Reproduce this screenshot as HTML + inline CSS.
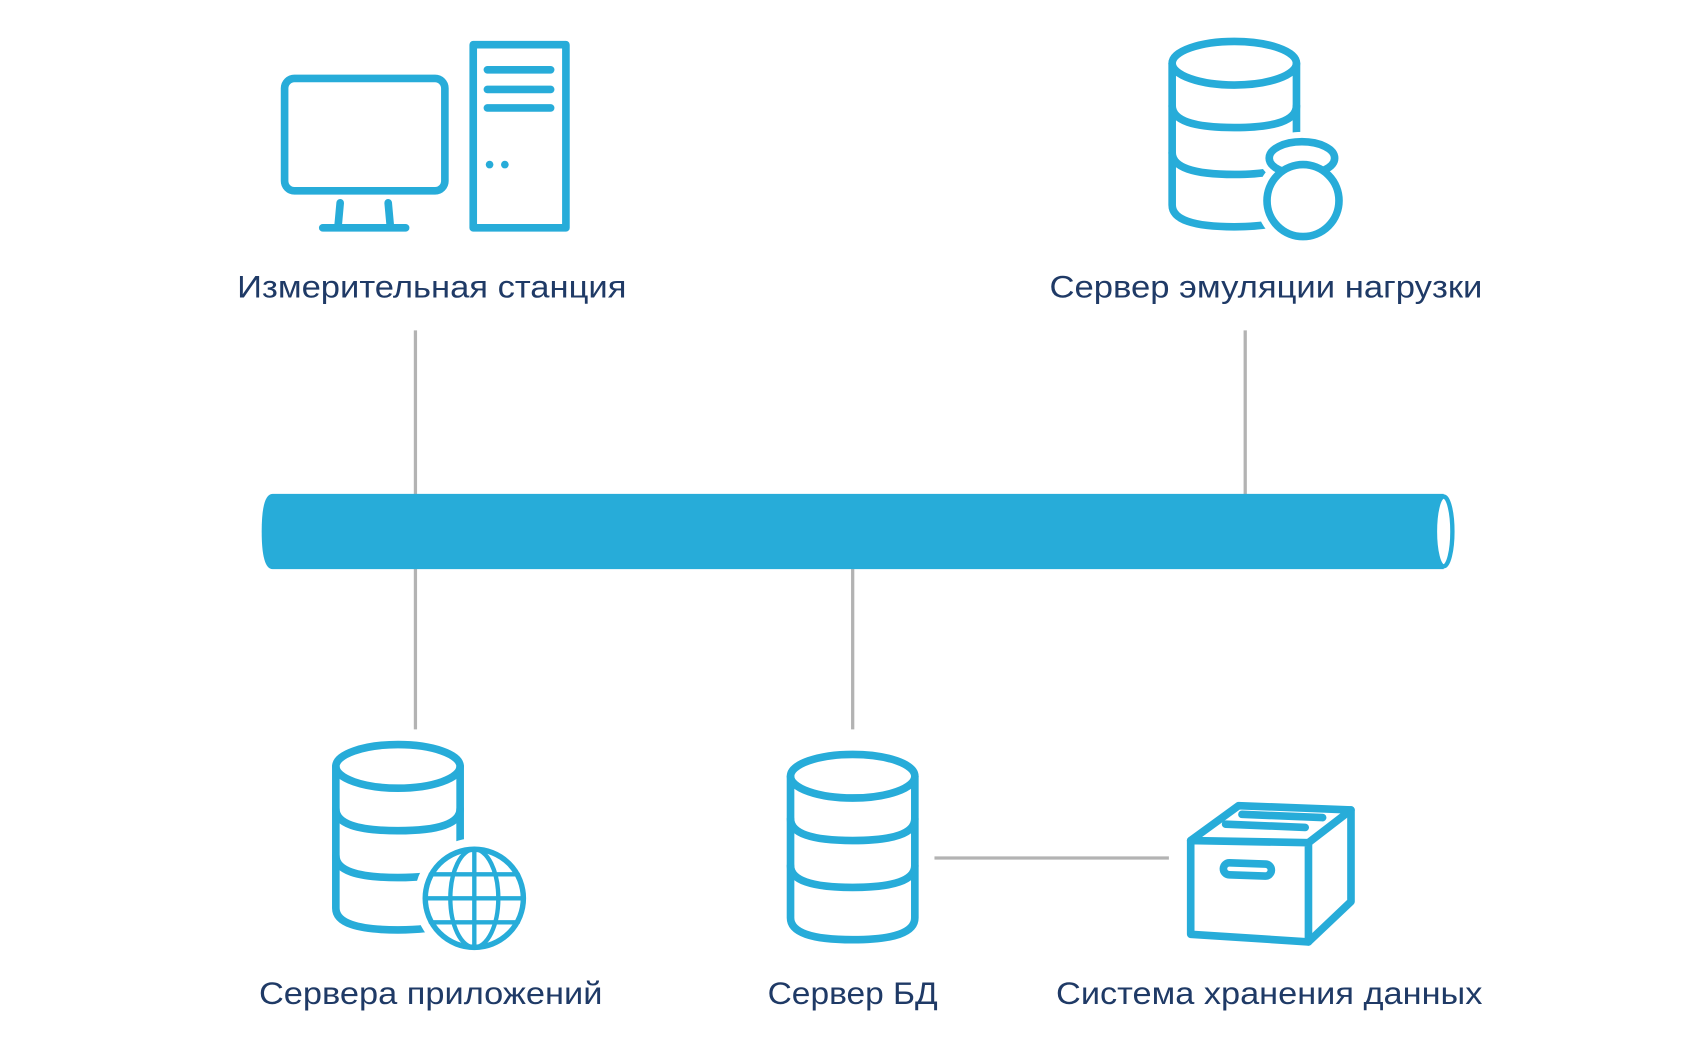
<!DOCTYPE html>
<html><head><meta charset="utf-8"><style>
html,body{margin:0;padding:0;background:#fff;width:1701px;height:1064px;overflow:hidden}
svg{display:block}
text{font-family:"Liberation Sans",sans-serif;font-size:29px;fill:#1f3a66}
</style></head><body>
<svg width="1701" height="1064" viewBox="0 0 1560 976" preserveAspectRatio="none">
<g stroke="#b3b3b3" stroke-width="3" fill="none">
<line x1="381" y1="303" x2="381" y2="455"/>
<line x1="1142" y1="303" x2="1142" y2="455"/>
<line x1="381" y1="520" x2="381" y2="669"/>
<line x1="782" y1="520" x2="782" y2="669"/>
<line x1="857" y1="787" x2="1072" y2="787"/>
</g>
<path d="M250 453 H1324 V522 H250 Q240 522 240 487.5 Q240 453 250 453 Z" fill="#27acd9"/>
<ellipse cx="1324" cy="487.5" rx="8" ry="32" fill="#fff" stroke="#27acd9" stroke-width="4"/>
<g stroke="#27acd9" stroke-width="7" fill="none" stroke-linecap="round" stroke-linejoin="round">
<rect x="261" y="72" width="147" height="103" rx="9"/>
<line x1="312" y1="186" x2="310" y2="208"/>
<line x1="356" y1="186" x2="358" y2="208"/>
<line x1="296" y1="209" x2="372" y2="209"/>
<rect x="434" y="41" width="85" height="168" stroke-linecap="butt"/>
<line x1="447" y1="64" x2="505" y2="64"/>
<line x1="447" y1="82" x2="505" y2="82"/>
<line x1="447" y1="99" x2="505" y2="99"/>
<circle cx="449" cy="151" r="3.5" fill="#27acd9" stroke="none"/><circle cx="463" cy="151" r="3.5" fill="#27acd9" stroke="none"/>
<ellipse cx="1132" cy="58" rx="57" ry="20"/>
<path d="M1075 58 V188 Q1075 208 1132 208 Q1189 208 1189 188 V58"/>
<path d="M1075 97 Q1075 117 1132 117 Q1189 117 1189 97"/>
<path d="M1075 140 Q1075 160 1132 160 Q1189 160 1189 140"/>
<ellipse cx="1194" cy="145" rx="30" ry="15" fill="#fff" stroke="#fff" stroke-width="18"/>
<circle cx="1195" cy="184" r="34" fill="#fff" stroke="#fff" stroke-width="18"/>
<ellipse cx="1194" cy="145" rx="30" ry="15" fill="#fff"/>
<circle cx="1195" cy="184" r="33" fill="#fff"/>
<ellipse cx="365" cy="703" rx="57" ry="20"/>
<path d="M308 703 V833 Q308 853 365 853 Q422 853 422 833 V703"/>
<path d="M308 742 Q308 762 365 762 Q422 762 422 742"/>
<path d="M308 785 Q308 805 365 805 Q422 805 422 785"/>
<circle cx="435" cy="824" r="50" fill="#fff" stroke="#fff" stroke-width="10"/>
<circle cx="435" cy="824" r="45" fill="#fff" stroke-width="5"/>
<g stroke-width="4">
<ellipse cx="435" cy="824" rx="22" ry="45"/>
<line x1="435" y1="779" x2="435" y2="869"/>
<line x1="390" y1="824" x2="480" y2="824"/>
<line x1="395" y1="802" x2="475" y2="802"/>
<line x1="395" y1="846" x2="475" y2="846"/>
</g>
<ellipse cx="782" cy="712" rx="57" ry="20"/>
<path d="M725 712 V842 Q725 862 782 862 Q839 862 839 842 V712"/>
<path d="M725 751 Q725 771 782 771 Q839 771 839 751"/>
<path d="M725 794 Q725 814 782 814 Q839 814 839 794"/>
<path d="M1092 771 L1200 773 L1200 864 L1092 857 Z"/>
<path d="M1092 771 L1136 739 L1239 743 L1200 773"/>
<path d="M1239 743 V827 L1200 864"/>
<line x1="1139" y1="747" x2="1213" y2="750"/>
<line x1="1124" y1="756" x2="1197" y2="759"/>
<rect x="1122" y="792" width="44" height="11" rx="5.5" transform="rotate(2 1144 797)"/>
</g>
<text x="396" y="273" text-anchor="middle" textLength="357" lengthAdjust="spacingAndGlyphs">Измерительная станция</text>
<text x="1161" y="273" text-anchor="middle" textLength="397" lengthAdjust="spacingAndGlyphs">Сервер эмуляции нагрузки</text>
<text x="395" y="921" text-anchor="middle" textLength="315" lengthAdjust="spacingAndGlyphs">Сервера приложений</text>
<text x="782" y="921" text-anchor="middle" textLength="156" lengthAdjust="spacingAndGlyphs">Сервер БД</text>
<text x="1164" y="921" text-anchor="middle" textLength="391" lengthAdjust="spacingAndGlyphs">Система хранения данных</text>
</svg>
</body></html>
